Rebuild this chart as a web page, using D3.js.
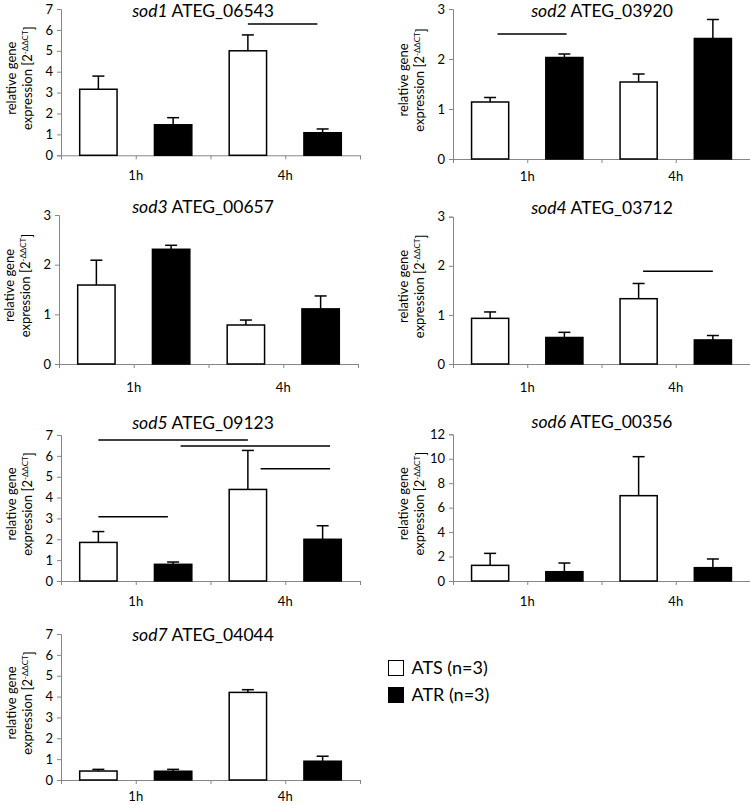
<!DOCTYPE html>
<html><head><meta charset="utf-8">
<script src="https://cdn.jsdelivr.net/npm/d3@7"></script>
<style>
html,body{margin:0;padding:0;background:#fff;}
text{font-family:Lato,"Open Sans",sans-serif;}
</style></head>
<body>
<svg id="chart" width="750" height="805"></svg>
<script>
// ---- data ----
const genes = ["sod1","sod2","sod3","sod4","sod5","sod6","sod7"];
const geneIds = ["ATEG_06543","ATEG_03920","ATEG_00657","ATEG_03712","ATEG_09123","ATEG_00356","ATEG_04044"];
const timepoints = ["1h","4h"];
const seriesNames = ["ATS (n=3)","ATR (n=3)"];
// mean values [1h, 4h]
const atsMean = [[3.16,5.00],[1.14,1.54],[1.59,0.785],[0.93,1.33],[1.85,4.39],[1.28,6.98],[0.43,4.20]];
const atrMean = [[1.46,1.08],[2.03,2.41],[2.31,1.11],[0.54,0.49],[0.80,2.00],[0.76,1.09],[0.42,0.90]];
// standard deviations (upper error bars)
const atsSD = [[0.63,0.76],[0.09,0.16],[0.50,0.10],[0.13,0.31],[0.52,1.87],[0.98,3.19],[0.08,0.13]];
const atrSD = [[0.34,0.18],[0.07,0.38],[0.08,0.26],[0.105,0.09],[0.11,0.65],[0.71,0.71],[0.09,0.24]];
// y-axis maxima and tick steps
const yMax = [7,3,3,3,7,12,7];
const yStep = [1,1,1,1,1,2,1];
// significance lines: [from bar position, to bar position, y value]; bar order ATS 1h, ATR 1h, ATS 4h, ATR 4h
const sigLines = [
  [[2,2.93,6.28]],
  [[0.1,1.03,2.5]],
  [],
  [[2.06,3,1.89]],
  [[0,2,6.76],[1.1,3.1,6.47],[2.17,3.1,5.38],[0,0.93,3.08]],
  [],
  []
];

// ---- layout ----
const layout = [
  {l:61, r:360, t:9,     b:155.3, ty:11,    tx:203, xo:20},
  {l:453,r:750, t:9,     b:159,   ty:11,    tx:602, xo:17},
  {l:59, r:358, t:215,   b:364,   ty:206.7, tx:203, xo:23},
  {l:453,r:750, t:216.7, b:364,   ty:208.3, tx:602, xo:23},
  {l:61, r:360, t:435,   b:581,   ty:423,   tx:203, xo:20},
  {l:453,r:750, t:434.3, b:581,   ty:421.7, tx:602, xo:20},
  {l:61, r:360, t:634,   b:780,   ty:635,   tx:203, xo:16.5}
];
const axisColor = "#868686";

const svg = d3.select("#chart");
svg.append("rect").attr("width",750).attr("height",805).attr("fill","#fff");

genes.forEach((g, i) => {
  const L = layout[i];
  const gp = svg.append("g");
  const bars = [
    {s:0, t:0, v:atsMean[i][0], e:atsSD[i][0]},
    {s:1, t:0, v:atrMean[i][0], e:atrSD[i][0]},
    {s:0, t:1, v:atsMean[i][1], e:atsSD[i][1]},
    {s:1, t:1, v:atrMean[i][1], e:atrSD[i][1]}
  ];
  const x = d3.scaleBand().domain(d3.range(4)).range([L.l, L.r]).paddingInner(0.5).paddingOuter(0.25);
  const xPos = d3.scaleLinear().domain([-0.5, 3.5]).range([L.l, L.r]);
  const xGroup = d3.scaleBand().domain(timepoints).range([L.l, L.r]);
  const y = d3.scaleLinear().domain([0, yMax[i]]).range([L.b, L.t]);

  // y axis
  const ticks = d3.range(0, yMax[i] + 0.001, yStep[i]);
  const ya = gp.append("g").attr("transform", `translate(${L.l},0)`)
    .call(d3.axisLeft(y).tickValues(ticks).tickSize(4).tickPadding(4).tickFormat(d3.format("d")));
  ya.select(".domain").attr("stroke", axisColor);
  ya.selectAll(".tick line").attr("stroke", axisColor);
  ya.selectAll(".tick text").attr("fill", "#000").style("font-size", "13px").style("font-family","Lato,'Open Sans',sans-serif");

  // x axis
  const xa = gp.append("g").attr("transform", `translate(0,${L.b})`)
    .call(d3.axisBottom(xPos).tickValues([-0.5,0.5,1.5,2.5,3.5]).tickSize(4).tickFormat(""));
  xa.select(".domain").attr("stroke", axisColor);
  xa.selectAll(".tick line").attr("stroke", axisColor);

  gp.selectAll("text.xl").data(timepoints).join("text").attr("class","xl")
    .attr("x", d => xGroup(d) + xGroup.bandwidth()/2)
    .attr("y", L.b + L.xo).attr("dy","0.35em").attr("text-anchor","middle")
    .style("font-size","13px").attr("fill","#000").text(d => d);

  // error bars
  bars.forEach((d, k) => {
    const cx = x(k) + x.bandwidth()/2;
    gp.append("line").attr("x1",cx).attr("x2",cx).attr("y1",y(d.v)).attr("y2",y(d.v+d.e))
      .attr("stroke","#000").attr("stroke-width",1.5);
    gp.append("line").attr("x1",cx-6).attr("x2",cx+6).attr("y1",y(d.v+d.e)).attr("y2",y(d.v+d.e))
      .attr("stroke","#000").attr("stroke-width",1.5);
  });

  // bars
  gp.selectAll("rect.bar").data(bars).join("rect").attr("class","bar")
    .attr("x", (d,k) => x(k)).attr("width", x.bandwidth())
    .attr("y", d => y(d.v)).attr("height", d => y(0) - y(d.v))
    .attr("fill", d => d.s === 0 ? "#fff" : "#000")
    .attr("stroke","#000").attr("stroke-width",1.5);

  // significance lines
  gp.selectAll("line.sig").data(sigLines[i]).join("line").attr("class","sig")
    .attr("x1", d => xPos(d[0])).attr("x2", d => xPos(d[1]))
    .attr("y1", d => y(d[2])).attr("y2", d => y(d[2]))
    .attr("stroke","#000").attr("stroke-width",1.5);

  // title
  const tt = gp.append("text").attr("x", L.tx).attr("y", L.ty).attr("dy","0.35em")
    .attr("text-anchor","middle").style("font-size","17.5px").attr("fill","#000");
  tt.append("tspan").style("font-style","italic").text(g);
  tt.append("tspan").text(" " + geneIds[i]);

  // y label
  const cy = (L.t + L.b)/2 - 4;
  const yl = gp.append("text").attr("transform", `translate(${L.l-50},${cy}) rotate(-90)`)
    .attr("text-anchor","middle").style("font-size","13px").attr("fill","#000");
  yl.append("tspan").attr("x",0).attr("dy","0.35em").text("relative gene");
  const l2 = gp.append("text").attr("transform", `translate(${L.l-34},${cy}) rotate(-90)`)
    .attr("text-anchor","middle").style("font-size","13px").attr("fill","#000");
  l2.append("tspan").attr("dy","0.35em").text("expression [2");
  l2.append("tspan").attr("dy","-0.45em").style("font-size","8px").text("-\u0394\u0394CT");
  l2.append("tspan").attr("dy","0.45em").text("]");
});

// legend
const leg = svg.append("g");
seriesNames.forEach((n, k) => {
  const yy = 668 + k*27;
  leg.append("rect").attr("x",388.5).attr("y",yy-7.5).attr("width",15).attr("height",15)
    .attr("fill", k === 0 ? "#fff" : "#000").attr("stroke","#000").attr("stroke-width",1);
  leg.append("text").attr("x",411.5).attr("y",yy).attr("dy","0.35em")
    .style("font-size","18px").attr("fill","#000").text(n);
});
</script>
</body></html>
